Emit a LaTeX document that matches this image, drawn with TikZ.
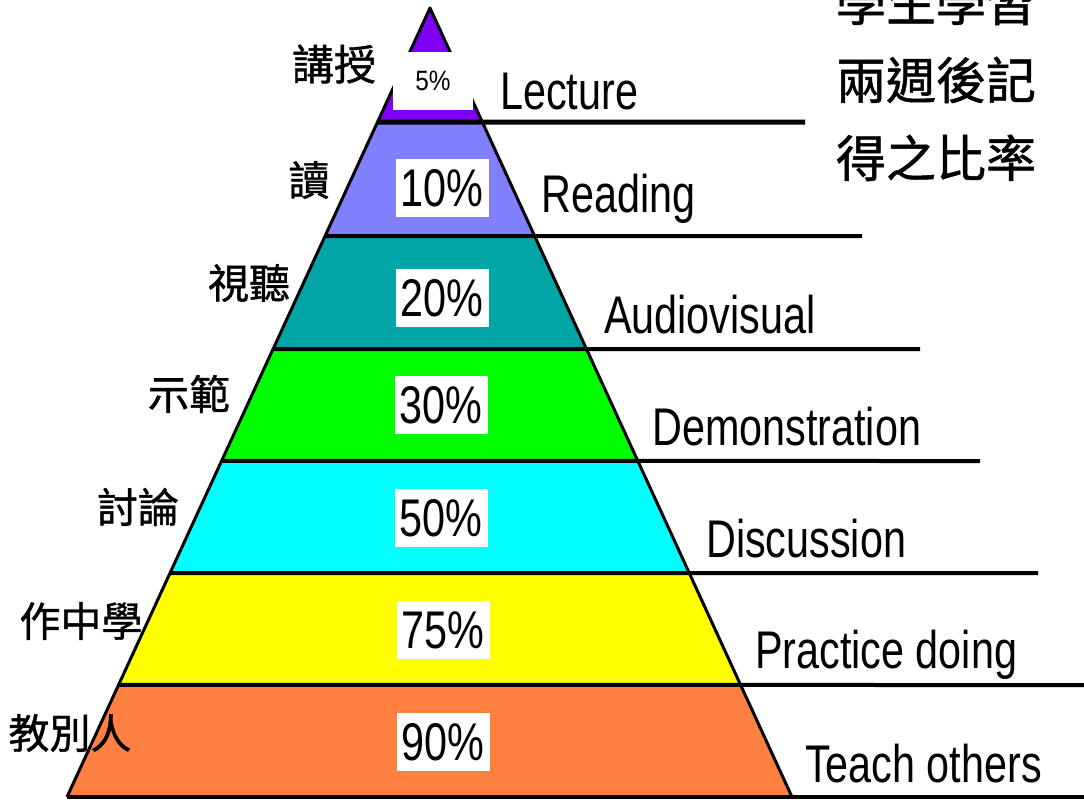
\documentclass[tikz,border=0pt]{standalone}
\usepackage{fontspec}
\setmainfont{Liberation Sans}
\newfontfamily\cjk[FakeBold=1]{Noto Sans CJK TC}
\usetikzlibrary{calc}
\definecolor{clect}{RGB}{128,0,245}
\definecolor{cread}{RGB}{128,128,255}
\definecolor{caudio}{RGB}{0,165,165}
\definecolor{cdemo}{RGB}{0,255,0}
\definecolor{cdisc}{RGB}{0,255,255}
\definecolor{cprac}{RGB}{255,255,0}
\definecolor{cteach}{RGB}{255,128,64}
\newcommand\nar[1]{\scalebox{0.78}[1]{#1}}
\begin{document}
\begin{tikzpicture}[x=1pt,y=-1pt,
  divider/.style={line width=4pt},
  edgeline/.style={line width=3pt, line join=round},
  pct/.style={fill=white, inner sep=0pt, minimum width=93pt, minimum height=58pt, font=\fontsize{53}{60}\selectfont},
  eng/.style={anchor=base west, inner sep=0pt, font=\fontsize{53}{60}\selectfont},
  zh/.style={inner sep=0pt, font=\cjk\fontsize{41}{48}\selectfont},
  zhbig/.style={inner sep=0pt, align=left, font=\cjk\fontsize{50}{78}\selectfont},
]
\useasboundingbox (0,0) rectangle (1084,800);
\fill[white] (0,0) rectangle (1084,800);
\coordinate (A) at (430,8);
\coordinate (BL) at (67,797);
\coordinate (BR) at (792,797);
% bands
\foreach \ta/\tb/\col in {0/0.1445/clect, 0.1445/0.2890/cread, 0.2890/0.4322/caudio, 0.4322/0.5741/cdemo, 0.5741/0.7161/cdisc, 0.7161/0.8580/cprac, 0.8580/1/cteach}{
  \fill[\col] ($(A)!\ta!(BL)$) -- ($(A)!\ta!(BR)$) -- ($(A)!\tb!(BR)$) -- ($(A)!\tb!(BL)$) -- cycle;
}
% divider start points and free ends
\coordinate (l1) at ($(A)!0.1445!(BL)$);
\coordinate (l2) at ($(A)!0.2890!(BL)$);
\coordinate (l3) at ($(A)!0.4322!(BL)$);
\coordinate (l4) at ($(A)!0.5741!(BL)$);
\coordinate (l5) at ($(A)!0.7161!(BL)$);
\coordinate (l6) at ($(A)!0.8580!(BL)$);
\coordinate (e1) at (805,122);
\coordinate (e2) at (862,236);
\coordinate (e3) at (920,349);
\coordinate (e4) at (980,461);
\coordinate (e5) at (1038,573);
\coordinate (e6) at (1084,685);
\coordinate (e7) at (1084,797);
\draw[divider, line width=5pt] (l1) -- (e1);
\draw[divider] (l2) -- (e2);
\draw[divider] (l3) -- (e3);
\draw[divider] (l4) -- (e4);
\draw[divider] (l5) -- (e5);
\draw[divider] (l6) -- (e6);
\draw[divider] (BL) -- (e7);
\draw[edgeline] (BL) -- (A) -- (BR);
% percent boxes
\node[pct, minimum width=80pt, font=\fontsize{28}{32}\selectfont] (p5) at (433,81) {\scalebox{0.87}[1]{5\%}};
\node[pct] (p10) at (442,188) {\nar{10\%}};
\node[pct] (p20) at (442,298) {\nar{20\%}};
\node[pct] (p30) at (441,405) {\nar{30\%}};
\node[pct] (p50) at (441,518) {\nar{50\%}};
\node[pct] (p75) at (443,630) {\nar{75\%}};
\node[pct] (p90) at (443,742) {\nar{90\%}};
% english labels
\node[eng] (lect) at (500,110) {\nar{Lecture}};
\node[eng] (read) at (541,212) {\nar{Reading}};
\node[eng] (audio) at (604,333) {\nar{Audiovisual}};
\node[eng] (demo) at (652,445) {\nar{Demonstration}};
\node[eng] (disc) at (706,557) {\nar{Discussion}};
\node[eng] (prac) at (755,668) {\nar{Practice doing}};
\node[eng] (teach) at (805,782) {\nar{Teach others}};
% chinese labels
\node[zh, font=\cjk\fontsize{42}{48}\selectfont] (z1) at (334,64) {講授};
\node[zh] (z2) at (309,180) {讀};
\node[zh] (z3) at (249,283) {視聽};
\node[zh] (z4) at (189,394) {示範};
\node[zh] (z5) at (138,507) {討論};
\node[zh] (z6) at (81,621) {作中學};
\node[zh] (z7) at (70,733) {教別人};
\node[zhbig] (title) at (936,80) {學生學習\\兩週後記\\得之比率};
\end{tikzpicture}
\end{document}
